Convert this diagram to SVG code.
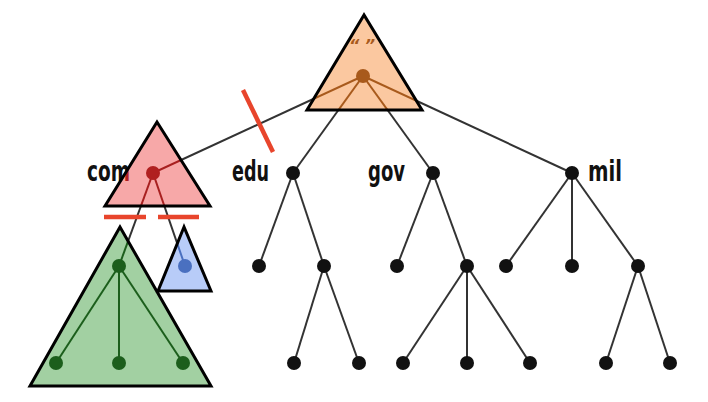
<svg xmlns="http://www.w3.org/2000/svg" xmlns:xlink="http://www.w3.org/1999/xlink" width="708" height="402" viewBox="0 0 708 402">
<style>
.edge{stroke:#333;stroke-width:2;fill:none}
.tri{stroke:#000;stroke-width:3;stroke-linejoin:miter}
.dot{fill:#111}
.lbl{font-family:"DejaVu Sans Condensed","DejaVu Sans",sans-serif;font-stretch:condensed;font-weight:bold;font-size:29px;fill:#111}
.cut{stroke:#e8452c;stroke-width:4.5}
</style>
<defs>
<line id="rc" x1="363" y1="76" x2="153" y2="173"/>
<line id="re" x1="363" y1="76" x2="293" y2="173"/>
<line id="rg" x1="363" y1="76" x2="433" y2="173"/>
<line id="rm" x1="363" y1="76" x2="572" y2="173"/>
<line id="cg" x1="153" y1="173" x2="119" y2="266"/>
<line id="cb" x1="153" y1="173" x2="185" y2="266"/>
<line id="g1" x1="119" y1="266" x2="56" y2="363"/>
<line id="g2" x1="119" y1="266" x2="119" y2="363"/>
<line id="g3" x1="119" y1="266" x2="183" y2="363"/>
<clipPath id="clipR"><polygon points="364,15 307,110 422,110"/></clipPath>
<clipPath id="clipC"><polygon points="157,122 105,206 210,206"/></clipPath>
<clipPath id="clipG"><polygon points="120,227 30,386 211,386"/></clipPath>
<clipPath id="clipB"><polygon points="184,227 158,291 211,291"/></clipPath>
</defs>
<g id="connectors" class="edge">
<use xlink:href="#rc"/><use xlink:href="#re"/><use xlink:href="#rg"/><use xlink:href="#rm"/>
<use xlink:href="#cg"/><use xlink:href="#cb"/>
<use xlink:href="#g1"/><use xlink:href="#g2"/><use xlink:href="#g3"/>
<line x1="293" y1="173" x2="259" y2="266"/><line x1="293" y1="173" x2="324" y2="266"/>
<line x1="324" y1="266" x2="294" y2="363"/><line x1="324" y1="266" x2="359" y2="363"/>
<line x1="433" y1="173" x2="397" y2="266"/><line x1="433" y1="173" x2="467" y2="266"/>
<line x1="467" y1="266" x2="403" y2="363"/><line x1="467" y1="266" x2="467" y2="363"/><line x1="467" y1="266" x2="530" y2="363"/>
<line x1="572" y1="173" x2="506" y2="266"/><line x1="572" y1="173" x2="572" y2="266"/><line x1="572" y1="173" x2="638" y2="266"/>
<line x1="638" y1="266" x2="606" y2="363"/><line x1="638" y1="266" x2="670" y2="363"/>
</g>
<text class="lbl" x="87" y="181" textLength="43" lengthAdjust="spacingAndGlyphs">com</text>
<g id="root">
<polygon points="364,15 307,110 422,110" fill="#fbc8a0"/>
<g clip-path="url(#clipR)" stroke="#a85a1c" stroke-width="2">
<use xlink:href="#rc"/><use xlink:href="#re"/><use xlink:href="#rg"/><use xlink:href="#rm"/>
</g>
<polygon class="tri" points="364,15 307,110 422,110" fill="none"/>
<text x="362" y="51" text-anchor="middle" font-family="DejaVu Sans, sans-serif" font-style="italic" font-weight="bold" font-size="16" fill="#a85a1c">“ ”</text>
<circle cx="363" cy="76" r="7" fill="#a85a1c"/>
</g>
<g id="com">
<polygon points="157,122 105,206 210,206" fill="#f7a8a8"/>
<g clip-path="url(#clipC)">
<g stroke="#a82020" stroke-width="2"><use xlink:href="#rc"/><use xlink:href="#cg"/><use xlink:href="#cb"/></g>
<text class="lbl" x="87" y="181" textLength="43" lengthAdjust="spacingAndGlyphs" style="fill:#b02020">com</text>
</g>
<polygon class="tri" points="157,122 105,206 210,206" fill="none"/>
<circle cx="153" cy="173" r="7" fill="#b02020"/>
</g>
<g id="cuts">
<line class="cut" x1="243" y1="90" x2="273" y2="152"/>
<line class="cut" x1="104" y1="217" x2="146" y2="217"/>
<line class="cut" x1="158" y1="217" x2="199" y2="217"/>
</g>
<g id="green">
<polygon points="120,227 30,386 211,386" fill="#a2d0a2"/>
<g clip-path="url(#clipG)" stroke="#1c5e1c" stroke-width="2">
<use xlink:href="#cg"/><use xlink:href="#g1"/><use xlink:href="#g2"/><use xlink:href="#g3"/>
</g>
<polygon class="tri" points="120,227 30,386 211,386" fill="none"/>
<circle cx="119" cy="266" r="7" fill="#1c5e1c"/>
<circle cx="56" cy="363" r="7" fill="#1c5e1c"/>
<circle cx="119" cy="363" r="7" fill="#1c5e1c"/>
<circle cx="183" cy="363" r="7" fill="#1c5e1c"/>
</g>
<g id="blue">
<polygon points="184,227 158,291 211,291" fill="#b8ccf8"/>
<g clip-path="url(#clipB)" stroke="#4a70c0" stroke-width="2"><use xlink:href="#cb"/></g>
<polygon class="tri" points="184,227 158,291 211,291" fill="none"/>
<circle cx="185" cy="266" r="7" fill="#4a70c0"/>
</g>
<g id="edu">
<text class="lbl" x="232" y="181" textLength="37" lengthAdjust="spacingAndGlyphs">edu</text>
<circle class="dot" cx="293" cy="173" r="7"/>
<circle class="dot" cx="259" cy="266" r="7"/>
<circle class="dot" cx="324" cy="266" r="7"/>
<circle class="dot" cx="294" cy="363" r="7"/>
<circle class="dot" cx="359" cy="363" r="7"/>
</g>
<g id="gov">
<text class="lbl" x="368" y="181" textLength="37" lengthAdjust="spacingAndGlyphs">gov</text>
<circle class="dot" cx="433" cy="173" r="7"/>
<circle class="dot" cx="397" cy="266" r="7"/>
<circle class="dot" cx="467" cy="266" r="7"/>
<circle class="dot" cx="403" cy="363" r="7"/>
<circle class="dot" cx="467" cy="363" r="7"/>
<circle class="dot" cx="530" cy="363" r="7"/>
</g>
<g id="mil">
<text class="lbl" x="588" y="181" textLength="34" lengthAdjust="spacingAndGlyphs">mil</text>
<circle class="dot" cx="572" cy="173" r="7"/>
<circle class="dot" cx="506" cy="266" r="7"/>
<circle class="dot" cx="572" cy="266" r="7"/>
<circle class="dot" cx="638" cy="266" r="7"/>
<circle class="dot" cx="606" cy="363" r="7"/>
<circle class="dot" cx="670" cy="363" r="7"/>
</g>
</svg>
